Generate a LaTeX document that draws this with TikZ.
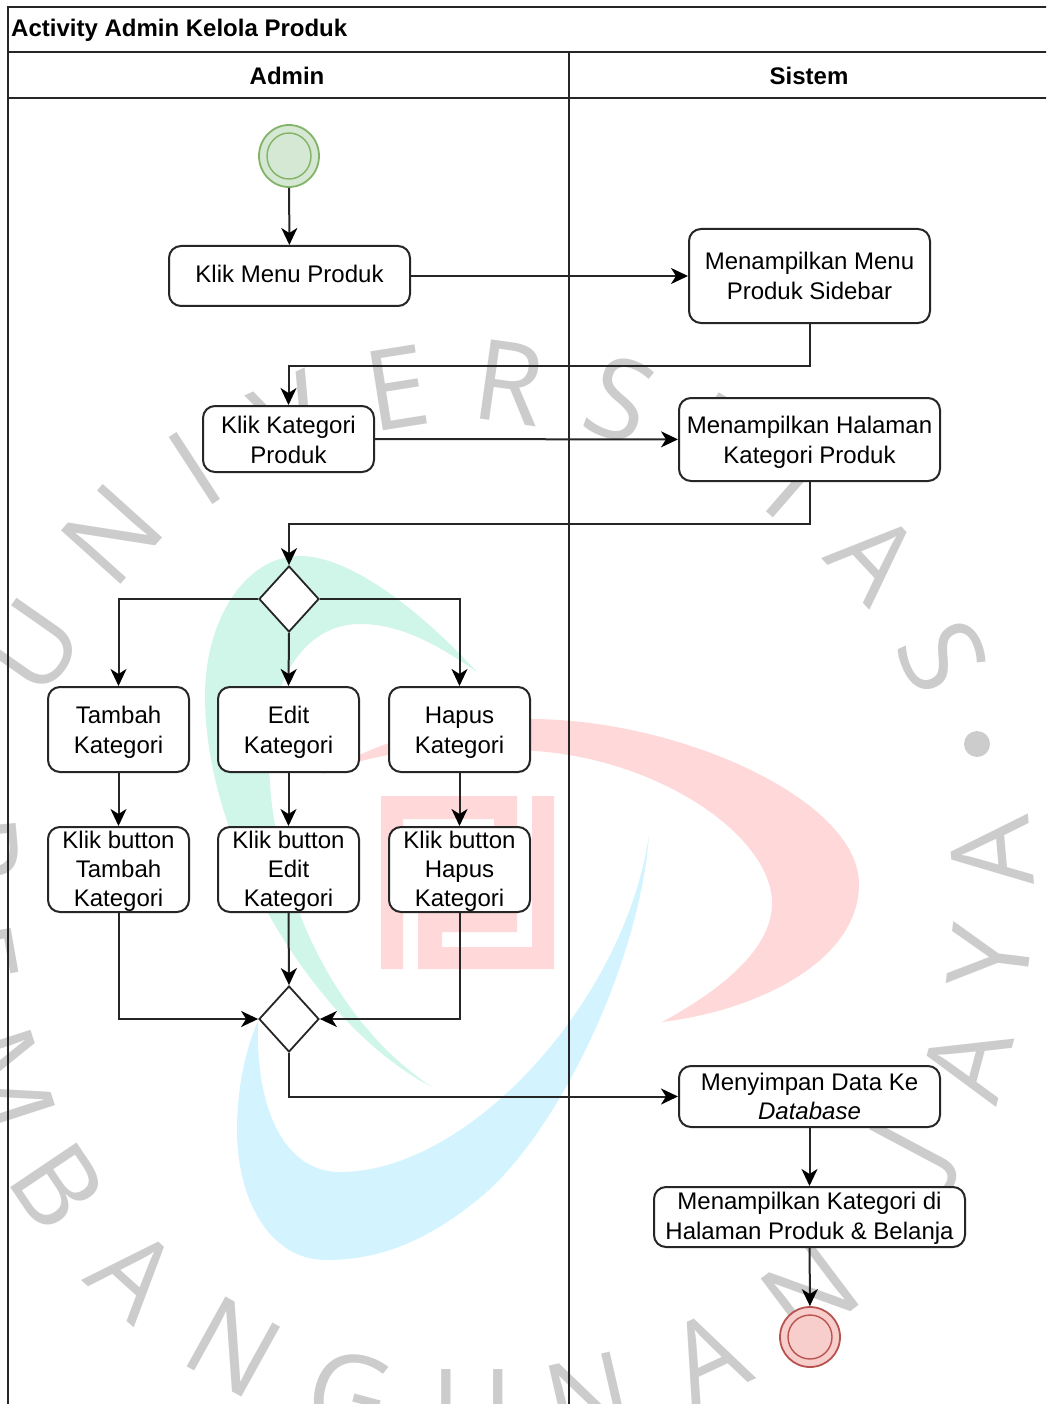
\documentclass[tikz,border=0pt]{standalone}
\usepackage{fontspec}
\setmainfont{Liberation Sans}
\newfontfamily\wmfont{Open Sans}
\usetikzlibrary{shapes.geometric,arrows.meta}
\definecolor{wmgray}{HTML}{CCCCCC}
\definecolor{wmgreen}{HTML}{CFF6E9}
\definecolor{wmred}{HTML}{FFD9D9}
\definecolor{wmblue}{HTML}{D3F4FE}
\definecolor{startfill}{HTML}{D5E8D4}
\definecolor{startline}{HTML}{82B366}
\definecolor{endfill}{HTML}{F8CECC}
\definecolor{endline}{HTML}{B85450}
\newcommand{\bw}{141pt}
\newcommand{\bh}{85pt}
\newcommand{\up}{\rule{0pt}{23pt}}

\begin{document}
\begin{tikzpicture}[x=1pt,y=-1pt,
    font=\fontsize{24}{29.5}\selectfont,
    act/.style={draw=black!85, fill=white, rectangle, rounded corners=12pt, line width=2pt, align=center, inner sep=0pt},
    dec/.style={draw=black!85, fill=white, diamond, minimum width=60pt, minimum height=66pt, line width=1.8pt, inner sep=0pt},
    wmark/.style={font=\wmfont\fontsize{112}{112}\selectfont, text=wmgray, inner sep=0pt},
    lane/.style={font=\fontsize{24}{29}\selectfont\bfseries, inner sep=0pt},
    flow/.style={line width=2pt, draw=black!85, -{Stealth[length=17pt,width=16pt,inset=5pt,color=black]}}]
    \useasboundingbox (0,0) rectangle (1046,1404);
    \clip (0,0) rectangle (1046,1404);

    % Watermark swooshes
    \fill[wmgreen] (477,672) .. controls (420,610) and (350,556) .. (300,556)
        .. controls (245,556) and (205,620) .. (205,696)
        .. controls (205,850) and (320,1030) .. (432,1087)
        .. controls (330,1020) and (269,880) .. (269,757)
        .. controls (269,680) and (305,624) .. (360,624)
        .. controls (405,624) and (445,650) .. (477,672) -- cycle;
    \fill[wmred] (321,775) .. controls (380,740) and (450,719) .. (530,719)
        .. controls (680,719) and (859,800) .. (859,884)
        .. controls (859,960) and (760,1010) .. (662,1022)
        .. controls (730,985) and (772,945) .. (772,903)
        .. controls (772,840) and (670,765) .. (547,752)
        .. controls (470,745) and (390,745) .. (321,775) -- cycle;
    \fill[wmblue] (649,835) .. controls (640,960) and (560,1130) .. (482,1196)
        .. controls (420,1248) and (370,1260) .. (326,1260)
        .. controls (270,1260) and (237,1200) .. (237,1130)
        .. controls (237,1090) and (245,1050) .. (258,1021)
        .. controls (255,1110) and (285,1172) .. (340,1172)
        .. controls (470,1172) and (625,1000) .. (649,835) -- cycle;
    \fill[wmred] (381,796) rectangle (403,969) (381,796) rectangle (517,819) (494,796) rectangle (517,932)
        (418,912) rectangle (517,932) (418,912) rectangle (442,969) (418,947) rectangle (554,969) (532,796) rectangle (554,969);

    % Watermark letters
    \node[wmark,rotate=55] (wm-1) at (33,646) {U};
    \node[wmark,rotate=48] (wm-2) at (112,534) {N};
    \node[wmark,rotate=33] (wm-3) at (195,468) {I};
    \node[wmark,rotate=25] (wm-4) at (292,418) {V};
    \node[wmark,rotate=9] (wm-5) at (397,388) {E};
    \node[wmark,rotate=-8] (wm-6) at (509,383) {R};
    \node[wmark,rotate=-20] (wm-7) at (620,399) {S};
    \node[wmark,rotate=-30] (wm-8) at (703,430) {I};
    \node[wmark,rotate=-41] (wm-9) at (796,485) {T};
    \node[wmark,rotate=-47] (wm-10) at (875,557) {A};
    \node[wmark,rotate=-65] (wm-11) at (943,656) {S};
    \fill[wmgray] (977,744) circle (13);

    \node[wmark,rotate=-85] (wm-12) at (-22,850) {P};
    \node[wmark,rotate=-80] (wm-13) at (-25,955) {E};
    \node[wmark,rotate=-72] (wm-14) at (5,1080) {M};
    \node[wmark,rotate=-56] (wm-15) at (58,1186) {B};
    \node[wmark,rotate=-42] (wm-16) at (135,1274) {A};
    \node[wmark,rotate=-29] (wm-17) at (234,1347) {N};
    \node[wmark,rotate=-15] (wm-18) at (349,1394) {G};
    \node[wmark] (wm-19) at (472,1410) {U};
    \node[wmark,rotate=13] (wm-20) at (589,1398) {N};
    \node[wmark,rotate=25] (wm-21) at (708,1357) {A};
    \node[wmark,rotate=37] (wm-22) at (810,1292) {N};
    \node[wmark,rotate=62] (wm-23) at (917,1149) {J};
    \node[wmark,rotate=75] (wm-24) at (967,1063) {A};
    \node[wmark,rotate=83] (wm-25) at (990,957) {Y};
    \node[wmark,rotate=95] (wm-26) at (991,853) {A};

    % Frame and lanes
    \draw[line width=1.6pt, black!85] (8,1410) -- (8,7) -- (1050,7);
    \draw[line width=2pt, black!85] (8,52) -- (1050,52);
    \draw[line width=2pt, black!85] (8,98) -- (1050,98);
    \draw[line width=2pt, black!85] (569,52) -- (569,1410);
    \node[lane,anchor=west] (title) at (11,30) {Activity Admin Kelola Produk};
    \node[lane] (lane-admin) at (287,76) {Admin};
    \node[lane] (lane-sistem) at (809,76) {Sistem};

    % Start and end
    \node[draw=startline, fill=startfill, ellipse, minimum width=60pt, minimum height=62pt, line width=1.8pt, inner sep=0pt] (start) at (289,156) {};
    \node[draw=startline, ellipse, minimum width=44pt, minimum height=46pt, line width=1.4pt, inner sep=0pt] (start-in) at (289,156) {};
    \node[draw=endline, fill=endfill, ellipse, minimum width=60pt, minimum height=60pt, line width=1.8pt, inner sep=0pt] (end) at (810,1337) {};
    \node[draw=endline, ellipse, minimum width=44pt, minimum height=44pt, line width=1.4pt, inner sep=0pt] (end-in) at (810,1337) {};

    % Upper boxes
    \node[act, minimum width=241pt, minimum height=60pt] (klik-menu) at (289.5,276) {Klik Menu Produk\rule[-4pt]{0pt}{4pt}};
    \node[act, minimum width=241pt, minimum height=94pt] (menu-sidebar) at (809.5,276) {Menampilkan Menu\\Produk Sidebar};
    \node[act, minimum width=171pt, minimum height=66pt] (klik-kategori) at (288.5,439) {\rule{0pt}{19pt}Klik Kategori\\Produk};
    \node[act, minimum width=261pt, minimum height=83pt] (hal-kategori) at (809.5,439.5) {\up Menampilkan Halaman\\Kategori Produk};

    % Branch
    \node[dec] (dec-1) at (289,599) {};
    \node[act, minimum width=\bw, minimum height=\bh] (tambah) at (118.5,729.5) {\up Tambah\\Kategori};
    \node[act, minimum width=\bw, minimum height=\bh] (edit) at (288.5,729.5) {\up Edit\\Kategori};
    \node[act, minimum width=\bw, minimum height=\bh] (hapus) at (459.5,729.5) {\up Hapus\\Kategori};
    \node[act, minimum width=\bw, minimum height=\bh, font=\fontsize{24}{29}\selectfont] (btn-tambah) at (118.5,869.5) {\rule{0pt}{21pt}Klik button\\Tambah\\Kategori};
    \node[act, minimum width=\bw, minimum height=\bh, font=\fontsize{24}{29}\selectfont] (btn-edit) at (288.5,869.5) {\rule{0pt}{21pt}Klik button\\Edit\\Kategori};
    \node[act, minimum width=\bw, minimum height=\bh, font=\fontsize{24}{29}\selectfont] (btn-hapus) at (459.5,869.5) {\rule{0pt}{21pt}Klik button\\Hapus\\Kategori};
    \node[dec] (dec-2) at (289,1019) {};

    % Lower boxes
    \node[act, minimum width=261pt, minimum height=61pt] (simpan) at (809.5,1096.5) {Menyimpan Data Ke\\\textit{Database}};
    \node[act, minimum width=311pt, minimum height=60pt] (tampil) at (809.5,1217) {\rule{0pt}{20pt}Menampilkan Kategori di\\Halaman Produk \& Belanja};

    % Connectors
    \draw[flow] (start) -- (klik-menu);
    \draw[flow] (klik-menu) -- (menu-sidebar);
    \draw[flow] (menu-sidebar.south) -- ++(0,42) -| (klik-kategori.north);
    \draw[flow] (klik-kategori) -- (hal-kategori);
    \draw[flow] (hal-kategori.south) -- ++(0,42) -| (dec-1.north);
    \draw[flow] (dec-1.west) -| (tambah.north);
    \draw[flow] (dec-1.south) -- (edit.north);
    \draw[flow] (dec-1.east) -| (hapus.north);
    \draw[flow] (tambah) -- (btn-tambah);
    \draw[flow] (edit) -- (btn-edit);
    \draw[flow] (hapus) -- (btn-hapus);
    \draw[flow] (btn-tambah.south) |- (dec-2.west);
    \draw[flow] (btn-edit.south) -- (dec-2.north);
    \draw[flow] (btn-hapus.south) |- (dec-2.east);
    \draw[flow] (dec-2.south) |- (simpan.west);
    \draw[flow] (simpan) -- (tampil);
    \draw[flow] (tampil) -- (end);
\end{tikzpicture}
\end{document}
